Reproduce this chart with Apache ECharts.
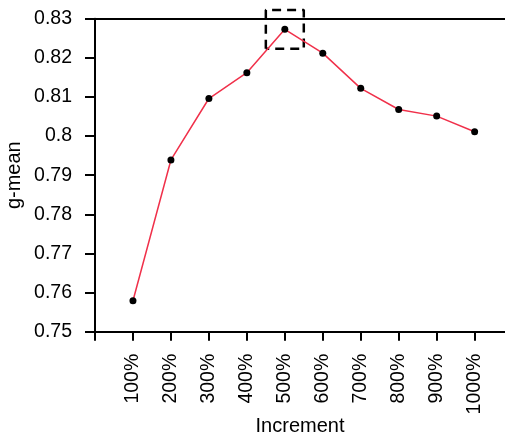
<!DOCTYPE html>
<html>
<head>
<meta charset="utf-8">
<script src="https://cdn.jsdelivr.net/npm/echarts@6/dist/echarts.min.js"></script>
<style>html,body{margin:0;padding:0;background:#fff;}#c{width:505px;height:440px;}</style>
</head>
<body>
<div id="c"></div>
<script>
var increments = [100, 200, 300, 400, 500, 600, 700, 800, 900, 1000];
var gmean = [0.7579, 0.7939, 0.8096, 0.8162, 0.8273, 0.8212, 0.8122, 0.8068, 0.8051, 0.8011];
var xTicks = [0, 100, 200, 300, 400, 500, 600, 700, 800, 900, 1000];
var xLabels = [100, 200, 300, 400, 500, 600, 700, 800, 900, 1000];
var boxX = [450, 550];
var boxY = [0.8223, 0.8322];

var font = 'Liberation Sans, Arial, sans-serif';
var chart = echarts.init(document.getElementById('c'), null, {renderer: 'canvas'});
chart.setOption({
  animation: false,
  grid: {left: 95, right: 0, top: 18.7, bottom: 108.3, containLabel: false, outerBoundsMode: 'none'},
  xAxis: [{
    type: 'value', min: 0, max: 1080, position: 'bottom',
    name: 'Increment', nameLocation: 'middle', nameGap: 85, nameMoveOverlap: false,
    nameTextStyle: {fontFamily: font, fontSize: 20, color: '#000'},
    axisLine: {show: true, lineStyle: {color: '#000', width: 2}},
    axisTick: {show: true, length: 9, customValues: xTicks, lineStyle: {color: '#000', width: 2}},
    axisLabel: {show: true, rotate: 90, margin: 22, customValues: xLabels,
      formatter: function (v) { return v + '%'; },
      fontFamily: font, fontSize: 19.5, color: '#000'},
    splitLine: {show: false}
  }, {
    type: 'value', min: 0, max: 1080, position: 'top',
    axisLine: {show: true, lineStyle: {color: '#000', width: 2}},
    axisTick: {show: false}, axisLabel: {show: false}, splitLine: {show: false}
  }],
  yAxis: {
    type: 'value', min: 0.75, max: 0.83, interval: 0.01,
    name: 'g-mean', nameLocation: 'middle', nameGap: 71, nameMoveOverlap: false,
    nameTextStyle: {fontFamily: font, fontSize: 20, color: '#000'},
    axisLine: {show: true, lineStyle: {color: '#000', width: 2}},
    axisTick: {show: true, length: 10, lineStyle: {color: '#000', width: 2}},
    axisLabel: {margin: 23, fontFamily: font, fontSize: 19.5, color: '#000'},
    splitLine: {show: false}
  },
  series: [{
    type: 'line', xAxisIndex: 0,
    data: increments.map(function (x, i) { return [x, gmean[i]]; }),
    symbol: 'circle', symbolSize: 7,
    itemStyle: {color: '#000'},
    lineStyle: {color: '#f0304a', width: 1.5},
    clip: false, z: 3
  }, {
    type: 'line', xAxisIndex: 0,
    data: [[boxX[0], boxY[0]], [boxX[0], boxY[1]], [boxX[1], boxY[1]], [boxX[1], boxY[0]], [boxX[0], boxY[0]]],
    symbol: 'none',
    lineStyle: {color: '#000', width: 2.5, type: [9, 6]},
    clip: false, z: 2
  }]
});
</script>
</body>
</html>
